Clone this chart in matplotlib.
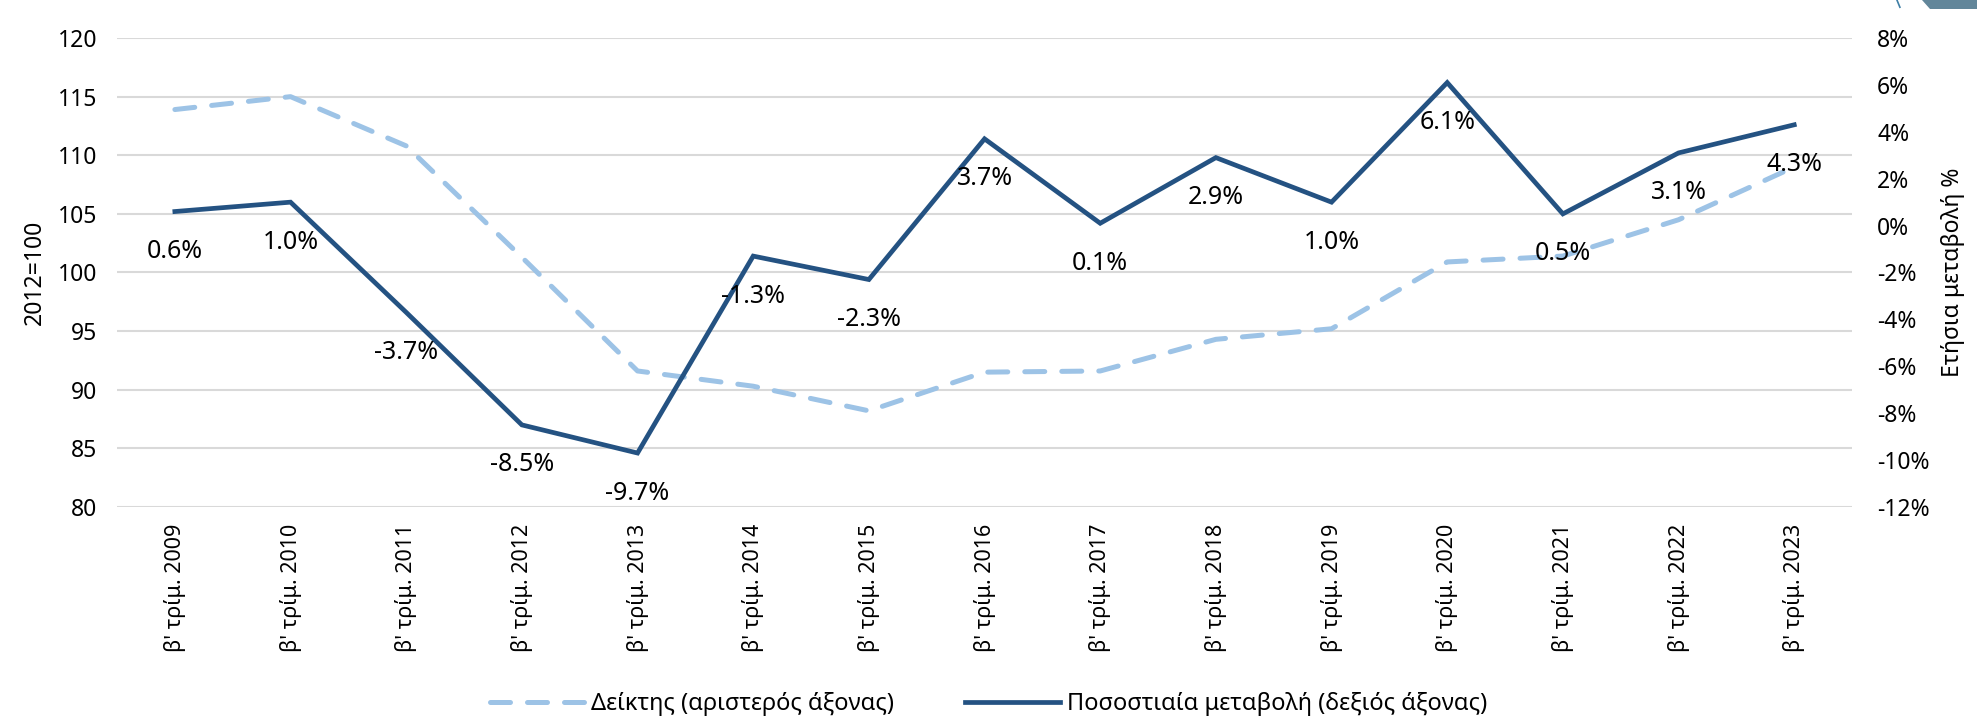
import matplotlib
matplotlib.use("Agg")
import matplotlib.pyplot as plt
from matplotlib.patches import Polygon
from matplotlib.lines import Line2D
import numpy as np

plt.rcParams['font.family'] = ['Noto Sans', 'DejaVu Sans']

# data
years = ["2009", "2010", "2011", "2012", "2013", "2014", "2015", "2016",
         "2017", "2018", "2019", "2020", "2021", "2022", "2023"]
labels = ["β' τρίμ. " + y for y in years]
index_vals = [113.9, 115.0, 110.8, 101.3, 91.6, 90.3, 88.2, 91.5,
              91.6, 94.3, 95.2, 100.9, 101.4, 104.5, 109.0]
pct_change = [0.6, 1.0, -3.7, -8.5, -9.7, -1.3, -2.3, 3.7,
              0.1, 2.9, 1.0, 6.1, 0.5, 3.1, 4.3]

left_ticks = [80, 85, 90, 95, 100, 105, 110, 115, 120]
right_ticks = [-12, -10, -8, -6, -4, -2, 0, 2, 4, 6, 8]

colDark = "#245282"
colLight = "#9dc3e6"
colGrid = "#d9d9d9"

fig = plt.figure(figsize=(19.77, 7.23), dpi=100)
fig.subplots_adjust(left=0.0592, right=0.9368, top=0.9474, bottom=0.2988)
ax = fig.add_subplot(111)
ax2 = ax.twinx()

x = np.arange(len(labels))

ax.set_ylim(80, 120)
ax.set_yticks(left_ticks)
ax.set_xlim(-0.5, len(labels) - 0.5)
ax.grid(axis='y', color=colGrid, linewidth=1.5)
ax.set_axisbelow(True)
for s in ax.spines.values():
    s.set_visible(False)
for s in ax2.spines.values():
    s.set_visible(False)

ax.plot(x, index_vals, color=colLight, linewidth=3.6, dashes=(4.0, 3.4),
        dash_capstyle='round', label="Δείκτης (αριστερός άξονας)")

ax2.set_ylim(-12, 8)
ax2.set_yticks(right_ticks)
ax2.set_yticklabels([f"{t}%" for t in right_ticks])
ax2.plot(x, pct_change, color=colDark, linewidth=3.4, solid_joinstyle='miter',
         label="Ποσοστιαία μεταβολή (δεξιός άξονας)")

for xi, v in zip(x, pct_change):
    ax2.annotate(f"{v:.1f}%", (xi, v), xytext=(0, -40), textcoords='offset pixels',
                 ha='center', va='center', fontsize=18, color='black')

ax.set_xticks(x)
ax.set_xticklabels(labels, rotation=90, fontsize=15.5)
ax.tick_params(axis='both', length=0, pad=12)
ax.tick_params(axis='y', labelsize=16.5, pad=14)
ax2.tick_params(axis='y', length=0, labelsize=16.5, pad=18)

ax.set_ylabel("2012=100", fontsize=16.5, labelpad=8)
ax2.set_ylabel("Ετήσια μεταβολή %", fontsize=16.5, labelpad=8)

h1, l1 = ax.get_legend_handles_labels()
h2, l2 = ax2.get_legend_handles_labels()
fig.legend(h1 + h2, l1 + l2, loc='center', bbox_to_anchor=(0.5, 0.026),
           ncol=2, frameon=False, fontsize=17, handlelength=4,
           columnspacing=3, handletextpad=0.3)

# decorative corner shape from the source page
fig.patches.append(Polygon([[0.972, 1.0], [1.0, 1.0], [1.0, 0.988], [0.976, 0.988]],
                           closed=True, transform=fig.transFigure,
                           facecolor="#62869a", edgecolor='none'))
fig.lines.append(Line2D([0.9595, 0.961], [1.0, 0.99], transform=fig.transFigure,
                        color="#3f7fa6", linewidth=1.2))

fig.savefig("out.png", dpi=100)
